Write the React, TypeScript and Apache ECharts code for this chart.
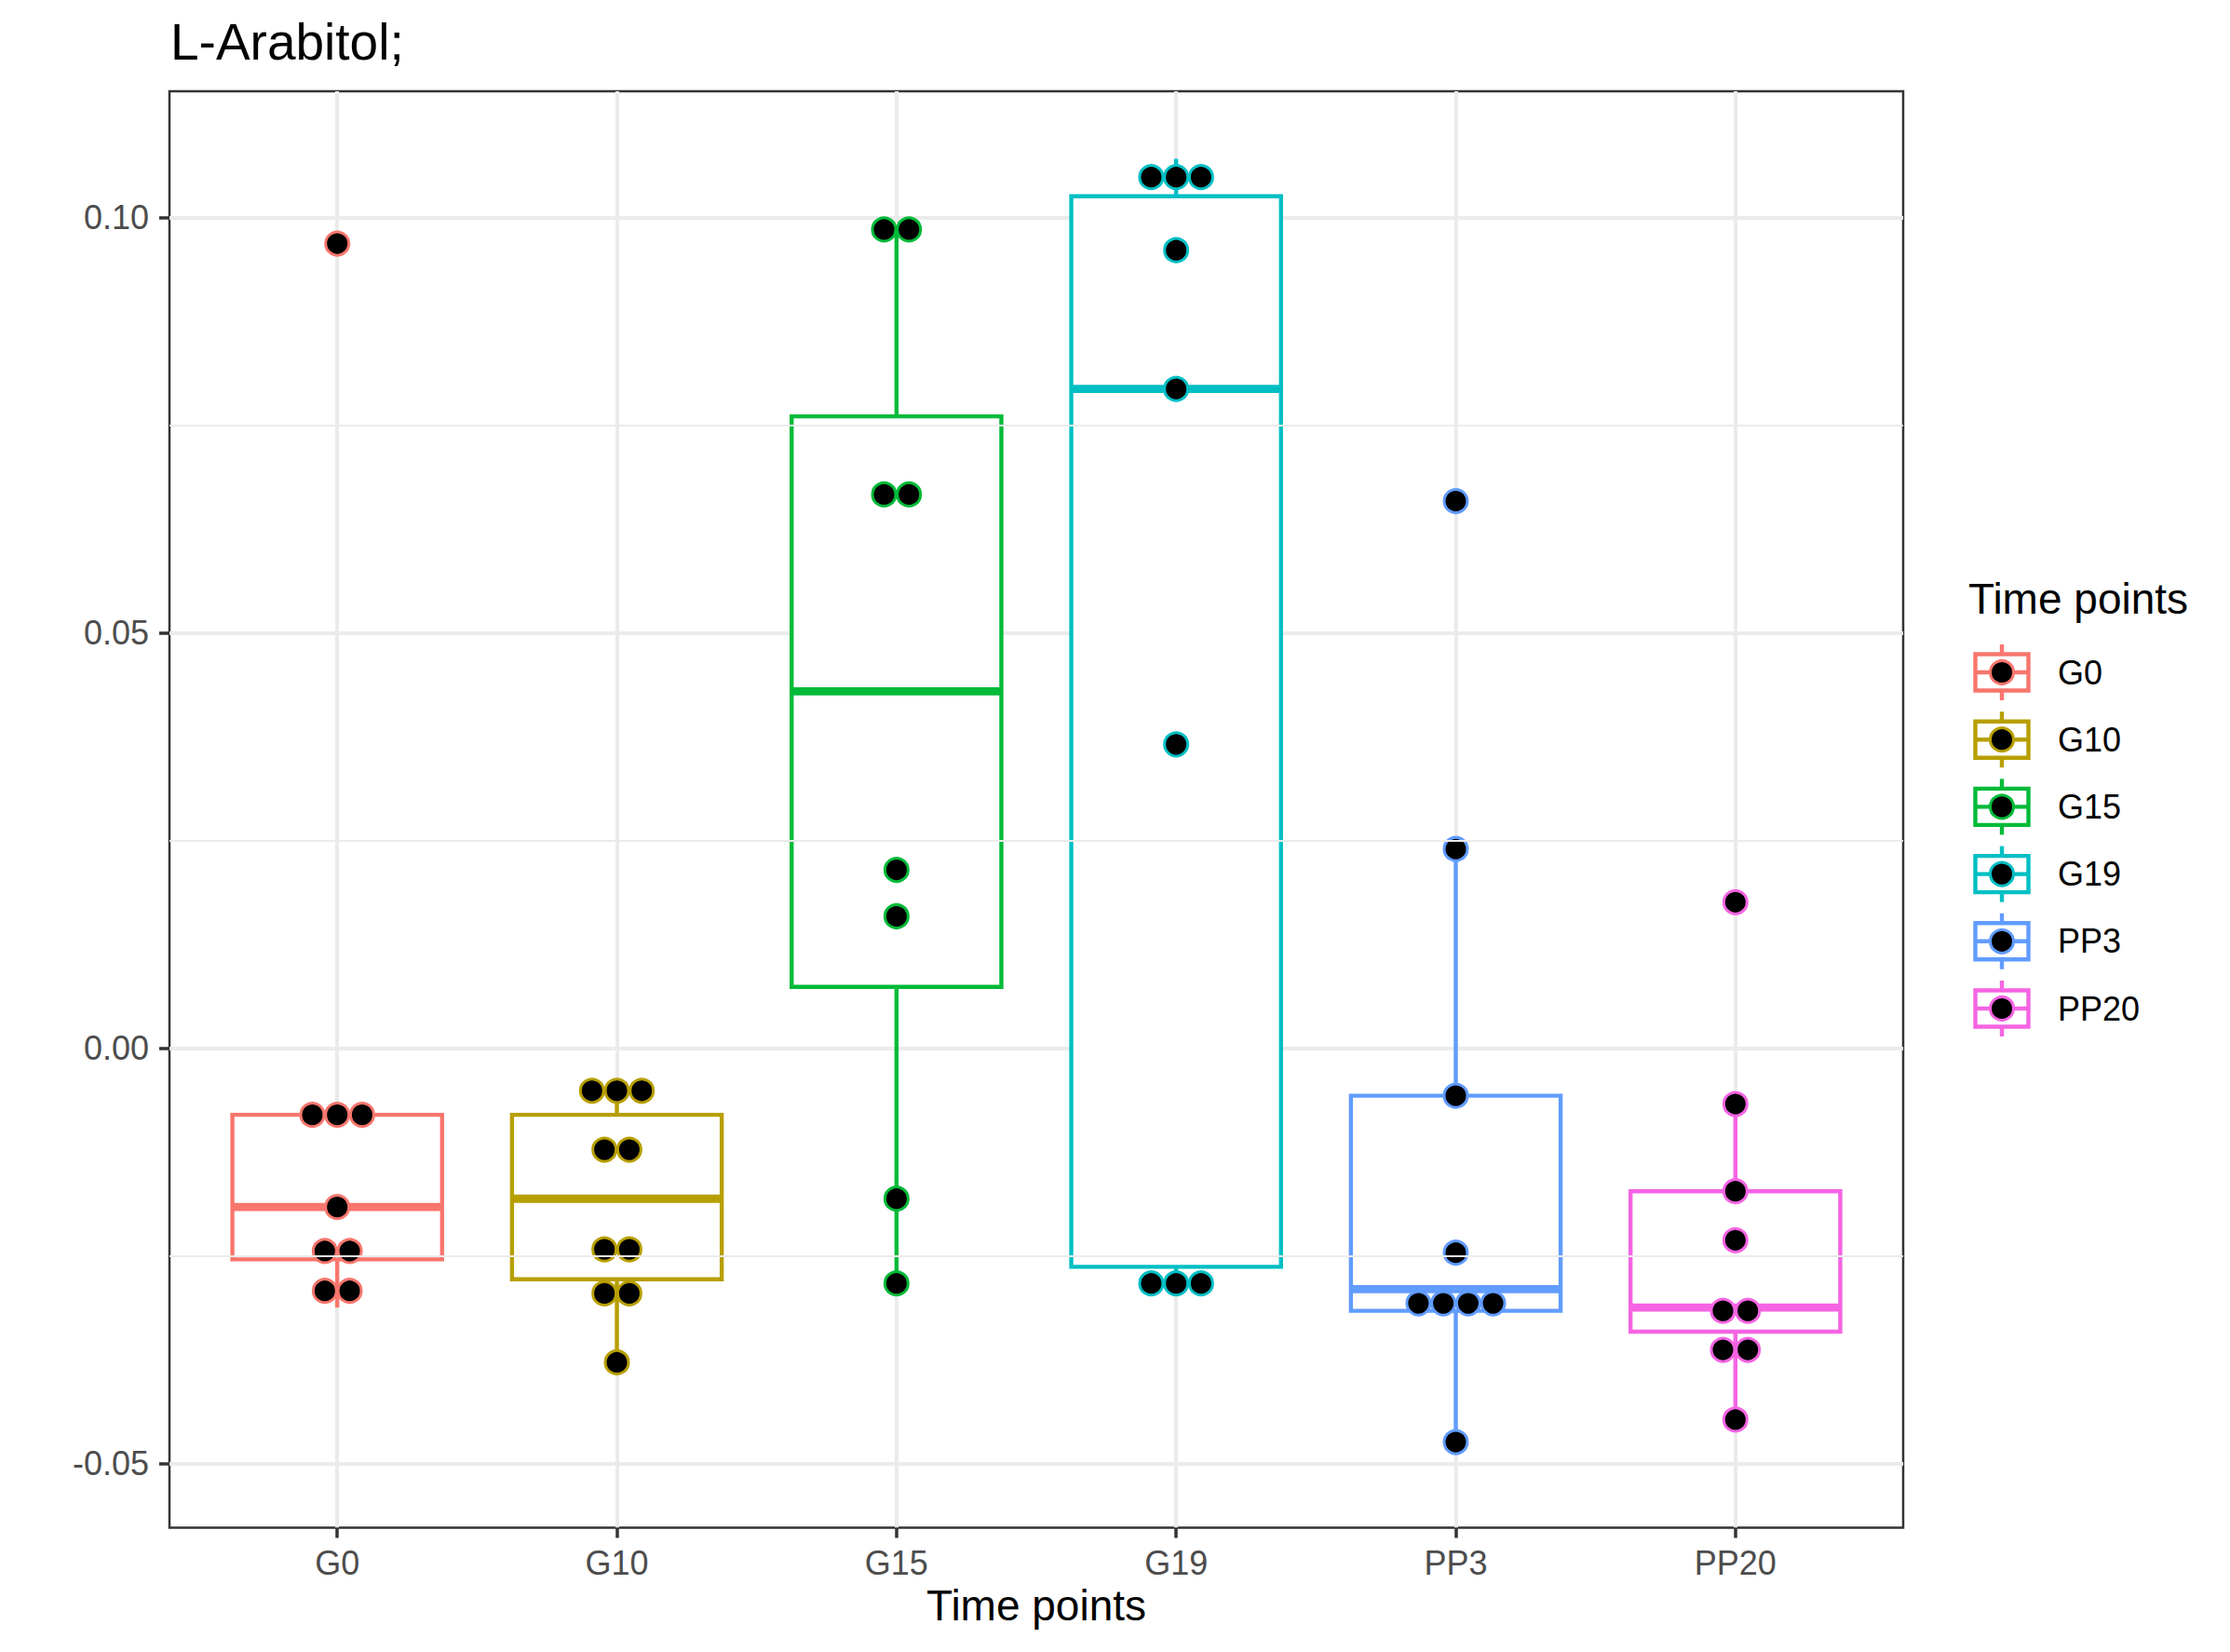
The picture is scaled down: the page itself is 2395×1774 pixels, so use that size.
import React, { useEffect, useRef } from 'react';
import * as echarts from 'echarts';

// ---- data ----
const categories = ['G0', 'G10', 'G15', 'G19', 'PP3', 'PP20'];
const palette = ['#F8766D', '#B79F00', '#00BA38', '#00BFC4', '#619CFF', '#F564E3'];

const whiskerLow = [-0.0312, -0.0378, -0.0283, -0.0295, -0.0474, -0.0447];
const quartile1 = [-0.0254, -0.0278, 0.0074, -0.0263, -0.0316, -0.0341];
const medians = [-0.0191, -0.0181, 0.043, 0.0794, -0.029, -0.0312];
const quartile3 = [-0.008, -0.008, 0.0761, 0.1026, -0.0057, -0.0172];
const whiskerHigh = [-0.008, -0.005, 0.099, 0.1071, 0.024, -0.0067];

// dots: [value, number of stacked dots]
const dotsG0 = [[0.0969, 1], [-0.008, 3], [-0.0191, 1], [-0.0244, 2], [-0.0292, 2]];
const dotsG10 = [[-0.0051, 3], [-0.0122, 2], [-0.0242, 2], [-0.0295, 2], [-0.0378, 1]];
const dotsG15 = [[0.0986, 2], [0.0667, 2], [0.0215, 1], [0.0159, 1], [-0.0181, 1], [-0.0283, 1]];
const dotsG19 = [[0.1049, 3], [0.0961, 1], [0.0794, 1], [0.0366, 1], [-0.0283, 3]];
const dotsPP3 = [[0.0659, 1], [0.024, 1], [-0.0057, 1], [-0.0246, 1], [-0.0307, 4], [-0.0474, 1]];
const dotsPP20 = [[0.0176, 1], [-0.0067, 1], [-0.0172, 1], [-0.0231, 1], [-0.0316, 2], [-0.0363, 2], [-0.0447, 1]];
const dotGroups = [dotsG0, dotsG10, dotsG15, dotsG19, dotsPP3, dotsPP20];

const yTicks = [-0.05, 0, 0.05, 0.1];
const yMinorLines = [-0.025, 0.025, 0.075];
const xTicks = [0, 1, 2, 3, 4, 5];

const titleText = 'L-Arabitol;';
const axisTitle = 'Time points';
const legendTitle = 'Time points';

// ---- layout / style ----
const W = 2395;
const H = 1774;
const FONT = '"Liberation Sans", Arial, Helvetica, sans-serif';
const BOX_WIDTH = 0.75;
const DOT_STEP = 0.089;
const LW = 4.4;
const GRID = { left: 182, top: 98, right: W - 2044, bottom: H - 1640.5 };

export default function App() {
  const ref = useRef<HTMLDivElement>(null);

  useEffect(() => {
    if (!ref.current) return;
    const chart = echarts.init(ref.current, undefined, { renderer: 'svg' });

    const boxData = categories.map((_, i) => [
      i, whiskerLow[i], quartile1[i], medians[i], quartile3[i], whiskerHigh[i],
    ]);

    const dotSeries = dotGroups.map((group, i) => {
      const pts: number[][] = [];
      group.forEach(([v, n]) => {
        for (let k = 0; k < n; k++) {
          pts.push([i + (k - (n - 1) / 2) * DOT_STEP, v]);
        }
      });
      return {
        type: 'scatter',
        name: categories[i],
        data: pts,
        symbol: 'circle',
        symbolSize: 25,
        z: 3,
        silent: true,
        itemStyle: { color: '#000000', borderColor: palette[i], borderWidth: 3, opacity: 1 },
      };
    });

    // legend built with graphics
    const legendChildren: any[] = [];
    const lx = 2150;
    const ly0 = 722;
    const lstep = 72.2;
    legendChildren.push({
      type: 'text',
      x: 2114,
      y: 643,
      style: { text: legendTitle, font: `46px ${FONT}`, fill: '#000', verticalAlign: 'middle', align: 'left' },
    });
    categories.forEach((c, i) => {
      const cy = ly0 + i * lstep;
      const col = palette[i];
      legendChildren.push(
        { type: 'line', shape: { x1: lx, y1: cy - 30, x2: lx, y2: cy - 19.5 }, style: { stroke: col, lineWidth: LW } },
        { type: 'line', shape: { x1: lx, y1: cy + 19.5, x2: lx, y2: cy + 30 }, style: { stroke: col, lineWidth: LW } },
        { type: 'rect', shape: { x: lx - 28.5, y: cy - 19.5, width: 57, height: 39 }, style: { fill: '#fff', stroke: col, lineWidth: LW } },
        { type: 'line', shape: { x1: lx - 28.5, y1: cy, x2: lx + 28.5, y2: cy }, style: { stroke: col, lineWidth: LW } },
        { type: 'circle', shape: { cx: lx, cy, r: 12.5 }, style: { fill: '#000', stroke: col, lineWidth: 3 } },
        {
          type: 'text',
          x: 2210,
          y: cy,
          style: { text: c, font: `36px ${FONT}`, fill: '#000', verticalAlign: 'middle', align: 'left' },
        },
      );
    });

    const option: any = {
      animation: false,
      backgroundColor: '#ffffff',
      textStyle: { fontFamily: FONT },
      title: {
        text: titleText,
        left: 178,
        top: 12,
        textStyle: { fontSize: 55, fontWeight: 'normal', color: '#000', fontFamily: FONT },
      },
      grid: {
        ...GRID,
        show: true,
        borderColor: '#333333',
        borderWidth: 2.5,
        backgroundColor: '#ffffff',
        containLabel: false,
      },
      xAxis: {
        type: 'value',
        min: -0.6,
        max: 5.6,
        name: axisTitle,
        nameLocation: 'middle',
        nameGap: 60,
        nameTextStyle: { fontSize: 46, color: '#000', fontFamily: FONT },
        axisLine: { show: false, onZero: false },
        axisTick: {
          show: true,
          length: 11,
          customValues: xTicks,
          lineStyle: { color: '#333333', width: 3.5 },
        },
        axisLabel: {
          show: true,
          customValues: xTicks,
          fontSize: 36,
          color: '#4D4D4D',
          margin: 20,
          fontFamily: FONT,
          formatter: (v: number) => categories[Math.round(v)] ?? '',
        },
        splitLine: { show: true, lineStyle: { color: '#EBEBEB', width: 4 } },
      },
      yAxis: {
        type: 'value',
        min: -0.05771,
        max: 0.11524,
        axisLine: { show: false, onZero: false },
        axisTick: {
          show: true,
          length: 11,
          customValues: yTicks,
          lineStyle: { color: '#333333', width: 3.5 },
        },
        axisLabel: {
          show: true,
          customValues: yTicks,
          fontSize: 36,
          color: '#4D4D4D',
          margin: 22,
          fontFamily: FONT,
          formatter: (v: number) => v.toFixed(2),
        },
        splitLine: { show: true, lineStyle: { color: '#EBEBEB', width: 4 } },
      },
      series: [
        {
          type: 'line',
          data: [],
          z: 1,
          silent: true,
          markLine: {
            silent: true,
            precision: 6,
            symbol: ['none', 'none'],
            label: { show: false },
            lineStyle: { color: '#EBEBEB', width: 2, type: 'solid' },
            data: yMinorLines.map((v) => ({ yAxis: v })),
          },
        },
        {
          type: 'custom',
          z: 2,
          silent: true,
          data: boxData,
          encode: { x: 0, y: [1, 2, 3, 4, 5] },
          renderItem: (params: any, api: any) => {
            const x = api.value(0);
            const lo = api.coord([x, api.value(1)]);
            const b1 = api.coord([x, api.value(2)]);
            const md = api.coord([x, api.value(3)]);
            const b3 = api.coord([x, api.value(4)]);
            const hi = api.coord([x, api.value(5)]);
            const w = api.size([BOX_WIDTH, 0])[0];
            const col = palette[params.dataIndex];
            const cx = lo[0];
            const left = cx - w / 2;
            return {
              type: 'group',
              children: [
                { type: 'line', shape: { x1: cx, y1: b3[1], x2: cx, y2: hi[1] }, style: { stroke: col, lineWidth: LW } },
                { type: 'line', shape: { x1: cx, y1: b1[1], x2: cx, y2: lo[1] }, style: { stroke: col, lineWidth: LW } },
                {
                  type: 'rect',
                  shape: { x: left, y: b3[1], width: w, height: b1[1] - b3[1] },
                  style: { fill: '#ffffff', stroke: col, lineWidth: LW },
                },
                {
                  type: 'line',
                  shape: { x1: left, y1: md[1], x2: left + w, y2: md[1] },
                  style: { stroke: col, lineWidth: LW * 2 },
                },
              ],
            };
          },
        },
        ...dotSeries,
      ],
      graphic: [{ type: 'group', children: legendChildren }],
    };

    chart.setOption(option);
    return () => chart.dispose();
  }, []);

  return (
    <div
      ref={ref}
      style={{ position: 'fixed', left: 0, top: 0, width: W, height: H, background: '#fff' }}
    />
  );
}
